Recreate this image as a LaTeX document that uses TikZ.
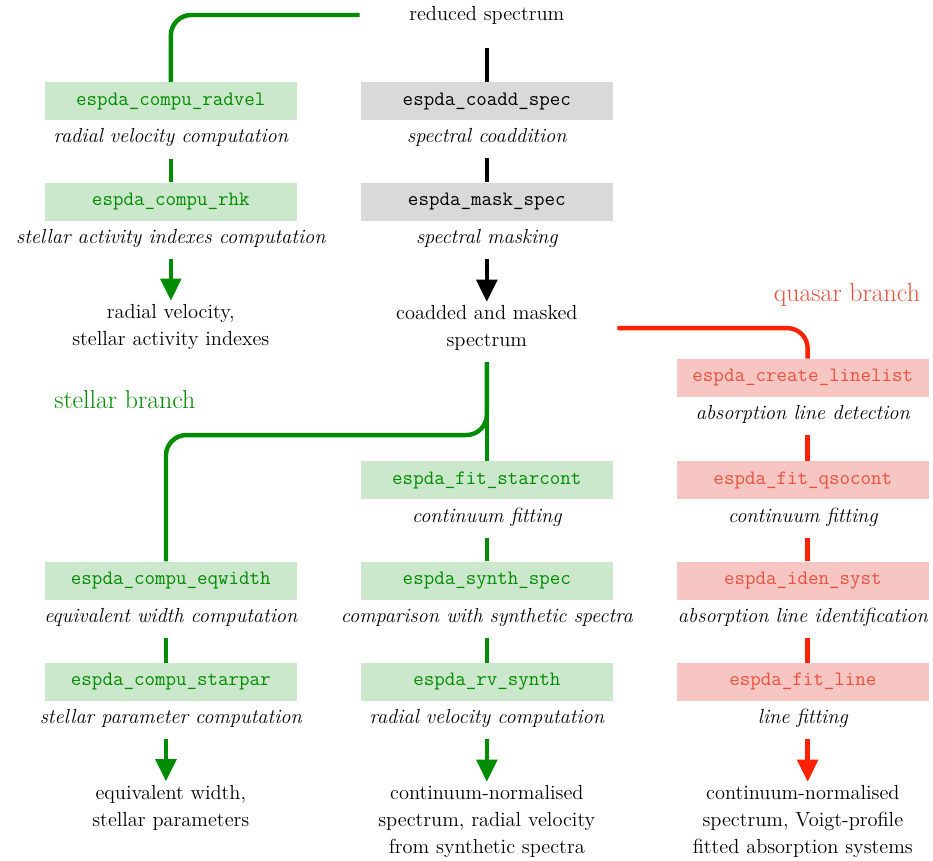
\documentclass[12pt,tikz,border=0pt]{standalone}
\usepackage{fontspec}
\usepackage{tikz}
\usetikzlibrary{arrows.meta,positioning}
\definecolor{stargreen}{RGB}{0,140,0}
\definecolor{qsored}{RGB}{255,34,0}
\definecolor{qsotext}{RGB}{235,80,62}
\definecolor{qsofill}{RGB}{247,198,194}

\begin{document}
\begin{tikzpicture}[>={Triangle[length=13pt,width=12pt]},
  task/.style={minimum width=5.21cm, minimum height=0.785cm, inner sep=0pt, font=\ttfamily},
  startask/.style={task, fill=stargreen!20, text=stargreen},
  qsotask/.style={task, fill=qsofill, text=qsotext},
  coretask/.style={task, fill=black!15},
  descr/.style={font=\itshape, inner sep=2pt},
  product/.style={text width=5.1cm, align=center, inner sep=2pt, font=\fontsize{12}{15.9}\selectfont},
  branch/.style={font=\fontsize{15.2}{18}\selectfont},
  flow/.style={line width=2.6pt, shorten <=4.5pt}]
  \useasboundingbox (0,0) rectangle (19.28,-17.79);
  % core branch
  \node[product] (reduced) at (10.06,-0.31) {reduced spectrum};
  \node[coretask] (coadd) at (10.06,-2.09) {espda\_coadd\_spec};
  \node[descr, below=2.7pt of coadd] (coaddtxt) {spectral coaddition};
  \node[coretask] (mask) at (10.06,-4.17) {espda\_mask\_spec};
  \node[descr, below=2.7pt of mask] (masktxt) {spectral masking};
  \node[product] (masked) at (10.06,-6.78) {coadded and masked\\spectrum};
  % stellar branch, upper part
  \node[startask] (radvel) at (3.53,-2.09) {espda\_compu\_radvel};
  \node[descr, below=2.7pt of radvel] (radveltxt) {radial velocity computation};
  \node[startask] (rhk) at (3.53,-4.17) {espda\_compu\_rhk};
  \node[descr, below=2.7pt of rhk] (rhktxt) {stellar activity indexes computation};
  \node[product] (activity) at (3.53,-6.76) {radial velocity,\\stellar activity indexes};
  % stellar branch, lower part
  \node[branch, text=stargreen] (stellarlbl) at (2.58,-8.26) {stellar branch};
  \node[startask] (eqw) at (3.53,-12.00) {espda\_compu\_eqwidth};
  \node[descr, below=2.7pt of eqw] (eqwtxt) {equivalent width computation};
  \node[startask] (starpar) at (3.53,-14.09) {espda\_compu\_starpar};
  \node[descr, below=2.7pt of starpar] (starpartxt) {stellar parameter computation};
  \node[product] (stellarout) at (3.53,-16.69) {equivalent width,\\stellar parameters};
  \node[startask] (starcont) at (10.06,-9.92) {espda\_fit\_starcont};
  \node[descr, below=2.7pt of starcont] (starconttxt) {continuum fitting};
  \node[startask] (synth) at (10.06,-12.00) {espda\_synth\_spec};
  \node[descr, below=2.7pt of synth] (synthtxt) {comparison with synthetic spectra};
  \node[startask] (rvsynth) at (10.06,-14.09) {espda\_rv\_synth};
  \node[descr, below=2.7pt of rvsynth] (rvsynthtxt) {radial velocity computation};
  \node[product] (normout) at (10.06,-16.98) {continuum-normalised\\spectrum, radial velocity\\from synthetic spectra};
  % quasar branch
  \node[branch, text=qsotext] (qsolbl) at (17.5,-6.10) {quasar branch};
  \node[qsotask] (linelist) at (16.59,-7.81) {espda\_create\_linelist};
  \node[descr, below=2.7pt of linelist] (linelisttxt) {absorption line detection};
  \node[qsotask] (qsocont) at (16.59,-9.92) {espda\_fit\_qsocont};
  \node[descr, below=2.7pt of qsocont] (qsoconttxt) {continuum fitting};
  \node[qsotask] (idensyst) at (16.59,-12.00) {espda\_iden\_syst};
  \node[descr, below=2.7pt of idensyst] (idensysttxt) {absorption line identification};
  \node[qsotask] (fitline) at (16.59,-14.09) {espda\_fit\_line};
  \node[descr, below=2.7pt of fitline] (fitlinetxt) {line fitting};
  \node[product] (qsoout) at (16.59,-16.98) {continuum-normalised\\spectrum, Voigt-profile\\fitted absorption systems};
  % connectors
  \draw[flow, shorten <=11.8pt] (reduced.south) -- (coadd.north);
  \draw[flow] (coaddtxt.south) -- (mask.north);
  \draw[flow, ->] (masktxt.south) -- (masked.north);
  \draw[flow, stargreen, shorten <=0pt, rounded corners=12pt] (reduced.west) -| (radvel.north);
  \draw[flow, stargreen] (radveltxt.south) -- (rhk.north);
  \draw[flow, stargreen, ->] (rhktxt.south) -- (activity.north);
  \coordinate (fork) at (3.43,-8.99);
  \draw[flow, stargreen] (masked.south) -- (starcont.north);
  \draw[flow, stargreen, rounded corners=12pt] (masked.south) |- (fork) -- ([xshift=-0.1cm]eqw.north);
  \draw[flow, stargreen] ([xshift=-0.1cm]eqwtxt.south) -- ([xshift=-0.1cm]starpar.north);
  \draw[flow, stargreen, ->] ([xshift=-0.1cm]starpartxt.south) -- ([xshift=-0.1cm]stellarout.north);
  \draw[flow, stargreen] (starconttxt.south) -- (synth.north);
  \draw[flow, stargreen] (synthtxt.south) -- (rvsynth.north);
  \draw[flow, stargreen, ->] (rvsynthtxt.south) -- (normout.north);
  \draw[flow, qsored, shorten <=2pt, rounded corners=12pt] (masked.east) -| ([xshift=0.1cm]linelist.north);
  \draw[flow, qsored] ([xshift=0.1cm]linelisttxt.south) -- ([xshift=0.1cm]qsocont.north);
  \draw[flow, qsored] ([xshift=0.1cm]qsoconttxt.south) -- ([xshift=0.1cm]idensyst.north);
  \draw[flow, qsored] ([xshift=0.1cm]idensysttxt.south) -- ([xshift=0.1cm]fitline.north);
  \draw[flow, qsored, ->] ([xshift=0.1cm]fitlinetxt.south) -- ([xshift=0.1cm]qsoout.north);
\end{tikzpicture}
\end{document}
